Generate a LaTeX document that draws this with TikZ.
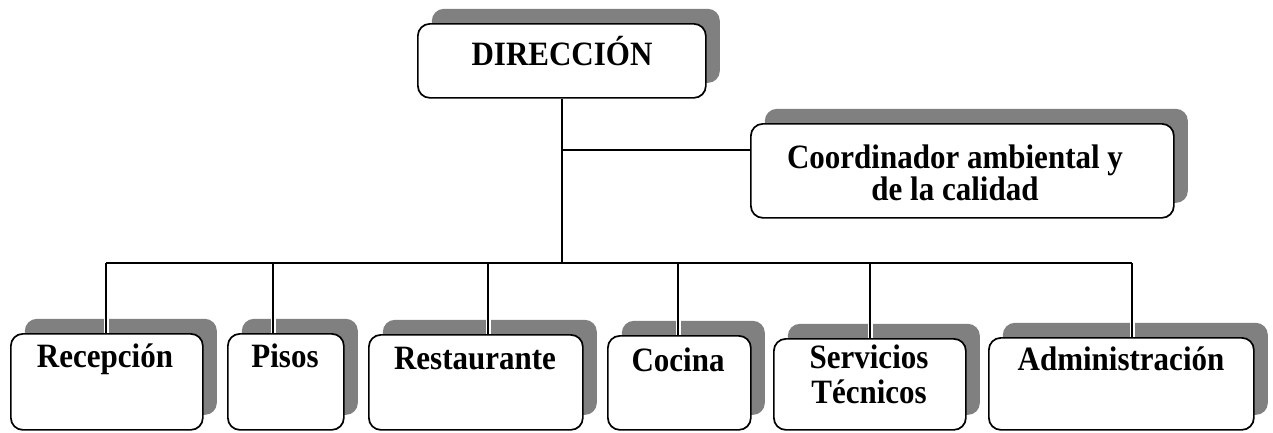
\documentclass[tikz,border=0pt]{standalone}
\usepackage{fontspec}
\usepackage{graphicx}
\setmainfont{Liberation Serif}
\usetikzlibrary{shadows,calc}
\newcommand{\tx}[1]{\scalebox{1}[1.1]{#1}}
\begin{document}
\begin{tikzpicture}[x=1pt,y=-1pt,
  box/.style={draw=black,line width=1.7pt,rounded corners=12pt,fill=white,
    anchor=north west,inner sep=0pt,
    drop shadow={shadow xshift=14pt,shadow yshift=15pt,fill=black!50,opacity=1}},
  lbl/.style={font=\fontsize{31}{33}\selectfont\bfseries,inner sep=0pt,align=center},
  conn/.style={line width=1.7pt},
  drop/.style={line width=1.7pt,preaction={draw=white,line width=5pt}}]
\useasboundingbox (0,0) rectangle (1273,432);
% boxes
\node[box,minimum width=288pt,minimum height=74pt] (dir) at (417,23) {};
\node[box,minimum width=423pt,minimum height=94pt] (coord) at (750,123) {};
\node[box,minimum width=192pt,minimum height=96pt] (rec) at (10,333) {};
\node[box,minimum width=116pt,minimum height=96pt] (pis) at (227,333) {};
\node[box,minimum width=214pt,minimum height=95pt] (res) at (368,334) {};
\node[box,minimum width=143pt,minimum height=94pt] (coc) at (607,335) {};
\node[box,minimum width=192pt,minimum height=91pt] (ser) at (773,338) {};
\node[box,minimum width=265pt,minimum height=92pt] (adm) at (988,337) {};
% labels
\node[lbl,anchor=base] (tdir) at (562,65) {\tx{DIRECCIÓN}};
\node[lbl,font=\fontsize{31}{32.5}\selectfont\bfseries] (tcoord) at (955,173) {\tx{Coordinador ambiental y}\\\tx{de la calidad}};
\node[lbl,anchor=base] (trec) at (105,367) {\tx{Recepción}};
\node[lbl,anchor=base] (tpis) at (285,367) {\tx{Pisos}};
\node[lbl,anchor=base] (tres) at (475,369) {\tx{Restaurante}};
\node[lbl,anchor=base] (tcoc) at (678,371) {\tx{Cocina}};
\node[lbl,font=\fontsize{31}{35}\selectfont\bfseries] (tser) at (869,374) {\tx{Servicios}\\\tx{Técnicos}};
\node[lbl,anchor=base] (tadm) at (1121,370) {\tx{Administración}};
% connectors
\coordinate (busy) at (0,263);
\coordinate (cb) at ($(coord.north west)+(0,27)$);
\coordinate (drec) at ($(rec.north west)+(96,0)$);
\coordinate (dpis) at ($(pis.north west)+(46,0)$);
\coordinate (dres) at ($(res.north west)+(120,0)$);
\coordinate (dcoc) at ($(coc.north west)+(71,0)$);
\coordinate (dser) at ($(ser.north west)+(97,0)$);
\coordinate (dadm) at ($(adm.north west)+(144,0)$);
\draw[conn] (dir.south) -- (dir.south |- busy);
\draw[conn] (dir.south |- cb) -- (cb);
\foreach \d in {drec,dpis,dres,dcoc,dser,dadm}{
  \draw[drop] (\d) -- (\d |- busy);
}
\draw[conn] (drec |- busy) -- (dadm |- busy);
\end{tikzpicture}
\end{document}
